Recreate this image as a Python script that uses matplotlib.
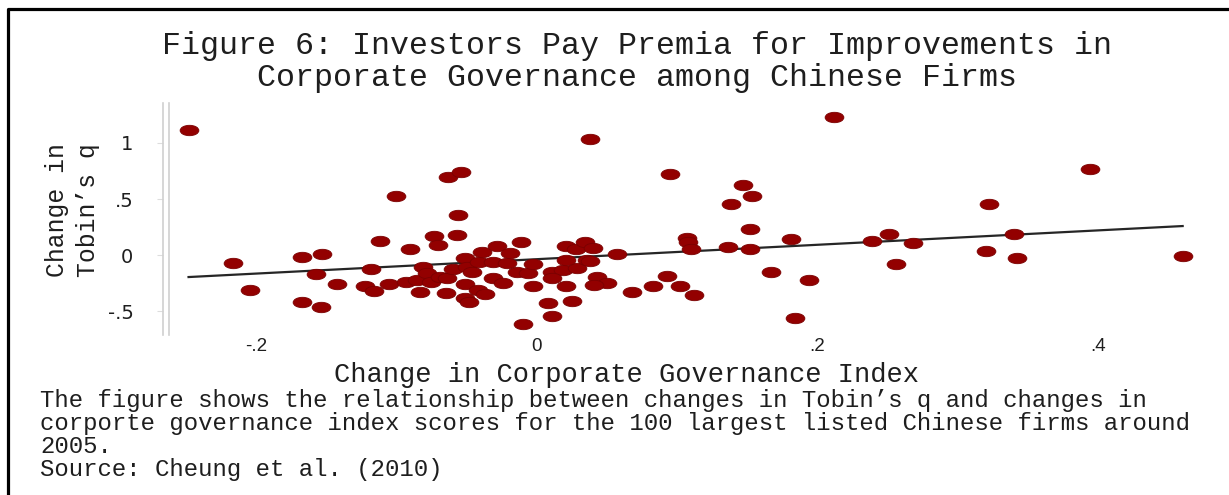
"""Figure 6 -- change in Tobin's q vs change in corporate governance index
(100 largest listed Chinese firms), redrawn from the published scatter.

    python3 plot.py  ->  out.png
"""

import matplotlib
matplotlib.use("Agg")
import matplotlib.pyplot as plt
from matplotlib.lines import Line2D
from matplotlib.path import Path
from matplotlib.transforms import Affine2D

# change in corporate governance index (x) / change in Tobin's q (y)
gov_change = [
    -0.248, -0.216, -0.204, -0.167, -0.153, -0.157, -0.167, -0.154, -0.142,
    -0.122, -0.116, -0.118, -0.112, -0.100, -0.090, -0.105, -0.093, -0.085,
    -0.083, -0.081, -0.078,
    -0.063, -0.054, -0.056, -0.057, -0.073, -0.070, -0.075, -0.069, -0.064,
    -0.065, -0.060, -0.051, -0.050, -0.046, -0.041, -0.051, -0.042, -0.037,
    -0.051, -0.048,
    -0.039, -0.028, -0.031, -0.021, -0.019, -0.011, -0.031, -0.024, -0.014,
    -0.006, -0.003, -0.010, -0.003,
    0.008, 0.011, 0.025, 0.021, 0.011, 0.019, 0.011, 0.029, 0.021, 0.036,
    0.021, 0.028, 0.034, 0.040, 0.043, 0.050, 0.041, 0.038, 0.038,
    0.057, 0.068, 0.083, 0.093, 0.102, 0.112, 0.095, 0.107, 0.108, 0.110,
    0.138, 0.147, 0.153, 0.152, 0.136, 0.152, 0.181, 0.167, 0.194, 0.184,
    0.212, 0.239, 0.251, 0.256,
    0.268, 0.322, 0.340, 0.320, 0.342, 0.394, 0.460,
]
q_change = [
    1.116, -0.071, -0.313, -0.018, 0.009, -0.170, -0.420, -0.464, -0.259,
    -0.277, -0.321, -0.125, 0.125, 0.527, 0.054, -0.259, -0.241, -0.223,
    -0.330, -0.107, -0.161,
    0.696, 0.741, 0.357, 0.179, 0.170, 0.089, -0.241, -0.196, -0.205,
    -0.339, -0.125, -0.027, -0.107, -0.152, -0.063, -0.259, -0.313, -0.348,
    -0.384, -0.420,
    0.027, 0.080, -0.063, -0.071, 0.018, 0.116, -0.205, -0.250, -0.152,
    -0.161, -0.080, -0.616, -0.277,
    -0.429, -0.545, -0.411, -0.277, -0.152, -0.134, -0.205, -0.116, -0.045, -0.045,
    0.080, 0.054, 0.116, 0.063, -0.196, -0.250, -0.268, 1.036, -0.054,
    0.009, -0.330, -0.277, -0.188, -0.277, -0.357, 0.723, 0.152, 0.116, 0.054,
    0.455, 0.625, 0.527, 0.232, 0.071, 0.054, 0.143, -0.152, -0.223, -0.563,
    1.232, 0.125, 0.188, -0.080,
    0.107, 0.455, 0.188, 0.036, -0.027, 0.768, -0.009,
]

# fitted line end points
fit_x = [-0.248, 0.460]
fit_y = [-0.196, 0.259]

xticks = [-0.2, 0, 0.2, 0.4]
xtick_labels = ["-.2", "0", ".2", ".4"]
yticks = [-0.5, 0, 0.5, 1]
ytick_labels = ["-.5", "0", ".5", "1"]

title_lines = ["Figure 6: Investors Pay Premia for Improvements in",
               "Corporate Governance among Chinese Firms"]
caption_lines = [
    "The figure shows the relationship between changes in Tobin\u2019s q and changes in",
    "corporte governance index scores for the 100 largest listed Chinese firms around",
    "2005.",
    "Source: Cheung et al. (2010)",
]

MONO = "Liberation Mono"
TXT = "#1e1e1e"

# the source dots are squashed ellipses (picture was stretched sideways)
oval = Path.unit_circle().transformed(Affine2D().scale(1.8, 1.0))

fig = plt.figure(figsize=(12.29, 4.95), dpi=100)
ax = fig.add_axes([0.134, 0.323, 0.842, 0.469])

ax.plot(fit_x, fit_y, color="#262626", lw=1.6, zorder=2)
ax.plot(gov_change, q_change, ls="none", marker=oval, ms=13.5,
        mfc="#930000", mec="#7a0000", mew=0.6, zorder=3)

ax.set_xlim(-0.265, 0.472)
ax.set_ylim(-0.714, 1.357)
ax.set_xticks(xticks, xtick_labels)
ax.set_yticks(yticks, ytick_labels)
for lab in ax.get_yticklabels():
    lab.set_rotation(90); lab.set_va("center")
ax.tick_params(axis="both", colors="#dddddd", labelcolor=TXT)
ax.tick_params(axis="x", labelsize=13.5, length=0, pad=2)
ax.tick_params(axis="y", labelsize=14, length=4, pad=17)
for t in ax.get_xticklabels() + ax.get_yticklabels():
    t.set_family("Liberation Sans")

for s in ("top", "right", "bottom"):
    ax.spines[s].set_visible(False)
ax.spines["left"].set_color("#d0d0d0")
ax.spines["left"].set_linewidth(1.2)
ax.spines["left"].set_position(("axes", -0.002))
# stata draws the y axis as a doubled grey rule
ax.plot([0.004, 0.004], [0, 1], transform=ax.transAxes, color="#d0d0d0",
        lw=1.2, clip_on=False)

fig.text(0.510, 0.228, "Change in Corporate Governance Index", family=MONO,
         fontsize=19.5, color=TXT, ha="center", va="baseline")
fig.text(0.059, 0.576, "Change in\nTobin\u2019s q", family=MONO, fontsize=17.8,
         color=TXT, rotation=90, ha="center", va="center", multialignment="center",
         linespacing=1.4)

for y, line in zip([0.891, 0.826], title_lines):
    fig.text(0.518, y, line, family=MONO, fontsize=22.8, color=TXT,
             ha="center", va="baseline")
for y, line in zip([0.178, 0.131, 0.085, 0.038], caption_lines):
    fig.text(0.0325, y, line, family=MONO, fontsize=17.3, color=TXT,
             ha="left", va="baseline")

# box frame (only top and left edges survive the crop)
fig.add_artist(Line2D([8 / 1229, 8 / 1229, 1.0], [0.0, 1 - 9 / 495, 1 - 9 / 495],
                      transform=fig.transFigure, color="black", lw=2.3))

fig.savefig("out.png", dpi=100)
